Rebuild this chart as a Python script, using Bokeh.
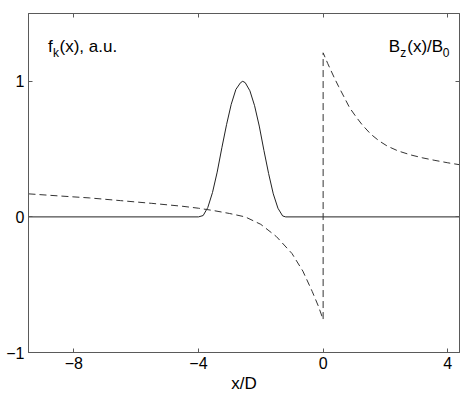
from bokeh.plotting import figure
from bokeh.models import Range1d, LinearAxis, FixedTicker, Label
from bokeh.embed import file_html
from bokeh.resources import INLINE

# ---- data ----
x_ticks = [-8, -4, 0, 4]
x_tick_labels = ["\u22128", "\u22124", "0", "4"]
y_ticks = [-1, 0, 1]
y_tick_labels = ["\u22121", "0", "1"]

# f_k(x): localized bump (solid), zero elsewhere
fk_x = [-9.455, -4.0, -3.85, -3.7, -3.55, -3.4, -3.25, -3.1, -2.95, -2.8, -2.65, -2.58,
        -2.5, -2.35, -2.2, -2.05, -1.9, -1.75, -1.6, -1.45, -1.3, -1.2, 4.376]
fk_y = [0, 0, 0.01, 0.07, 0.18, 0.33, 0.51, 0.68, 0.83, 0.94, 0.99, 1.0,
        0.99, 0.93, 0.82, 0.67, 0.49, 0.32, 0.17, 0.064, 0.007, 0, 0]

# Bz(x)/B0 (dashed), jump at x = 0
bz_x = [-9.455, -8.5, -7.5, -6.5, -5.5, -4.5, -4.0, -3.5, -3.0, -2.5, -2.0, -1.5, -1.0,
        -0.65, -0.35, -0.15, 0.0,
        0.0, 0.15, 0.35, 0.5, 0.67, 0.85, 1.05, 1.25, 1.53, 1.8, 2.06, 2.4, 2.81, 3.2,
        3.56, 4.0, 4.376]
bz_y = [0.17, 0.155, 0.14, 0.12, 0.10, 0.078, 0.064, 0.046, 0.025, 0.0, -0.055, -0.145, -0.27,
        -0.40, -0.55, -0.66, -0.757,
        1.21, 1.13, 1.03, 0.96, 0.885, 0.805, 0.74, 0.68, 0.61, 0.56, 0.522, 0.487, 0.457, 0.435,
        0.418, 0.399, 0.385]

FONT = "Liberation Sans"
AX_COLOR = "#5a5a5a"

p = figure(width=463, height=395,
           x_range=Range1d(-9.455, 4.376), y_range=Range1d(-1, 1.5),
           output_backend="svg", toolbar_location=None,
           min_border_left=28, min_border_right=4, min_border_top=13, min_border_bottom=42)
p.xgrid.visible = False
p.ygrid.visible = False
p.outline_line_color = AX_COLOR
p.background_fill_color = "white"
p.border_fill_color = "white"

def style_axis(ax, ticks, labels, show_labels=True):
    ax.ticker = FixedTicker(ticks=ticks)
    ax.minor_tick_line_color = None
    ax.major_tick_in = 4
    ax.major_tick_out = 0
    ax.axis_line_color = AX_COLOR
    ax.major_tick_line_color = AX_COLOR
    if show_labels:
        ax.major_label_overrides = {t: l for t, l in zip(ticks, labels)}
        ax.major_label_text_font = FONT
        ax.major_label_text_font_size = "16px"
        ax.major_label_text_color = "black"
        ax.major_label_standoff = 4
    else:
        ax.major_label_overrides = {t: "" for t in ticks}
        ax.major_label_text_font_size = "1px"
        ax.major_label_standoff = 0

style_axis(p.xaxis[0], x_ticks, x_tick_labels)
style_axis(p.yaxis[0], y_ticks, y_tick_labels)
p.xaxis[0].axis_label = "x/D"
p.xaxis[0].axis_label_text_font = FONT
p.xaxis[0].axis_label_text_font_size = "17px"
p.xaxis[0].axis_label_text_font_style = "normal"
p.xaxis[0].axis_label_text_color = "black"
p.xaxis[0].axis_label_standoff = 2

top_ax = LinearAxis()
right_ax = LinearAxis()
style_axis(top_ax, x_ticks, x_tick_labels, show_labels=False)
style_axis(right_ax, y_ticks, y_tick_labels, show_labels=False)
p.add_layout(top_ax, "above")
p.add_layout(right_ax, "right")

p.line(fk_x, fk_y, line_color="#222222", line_width=1)
p.line(bz_x, bz_y, line_color="#333333", line_width=1, line_dash="7 4")

def lab(x, y, text, size):
    p.add_layout(Label(x=x, y=y, text=text, text_font=FONT, text_font_size=size,
                       text_color="black", text_align="left", text_baseline="alphabetic"))

# f_k(x), a.u.
lab(-8.829, 1.2537, "f", "17px")
lab(-8.668, 1.211, "k", "12px")
lab(-8.46, 1.2537, "(x), a.u.", "17px")
# B_z(x)/B_0
lab(2.106, 1.2537, "B", "17px")
lab(2.475, 1.211, "z", "12px")
lab(2.700, 1.2537, "(x)/B", "17px")
lab(3.84, 1.211, "0", "12px")

open("out.html", "w").write(file_html(p, INLINE))
